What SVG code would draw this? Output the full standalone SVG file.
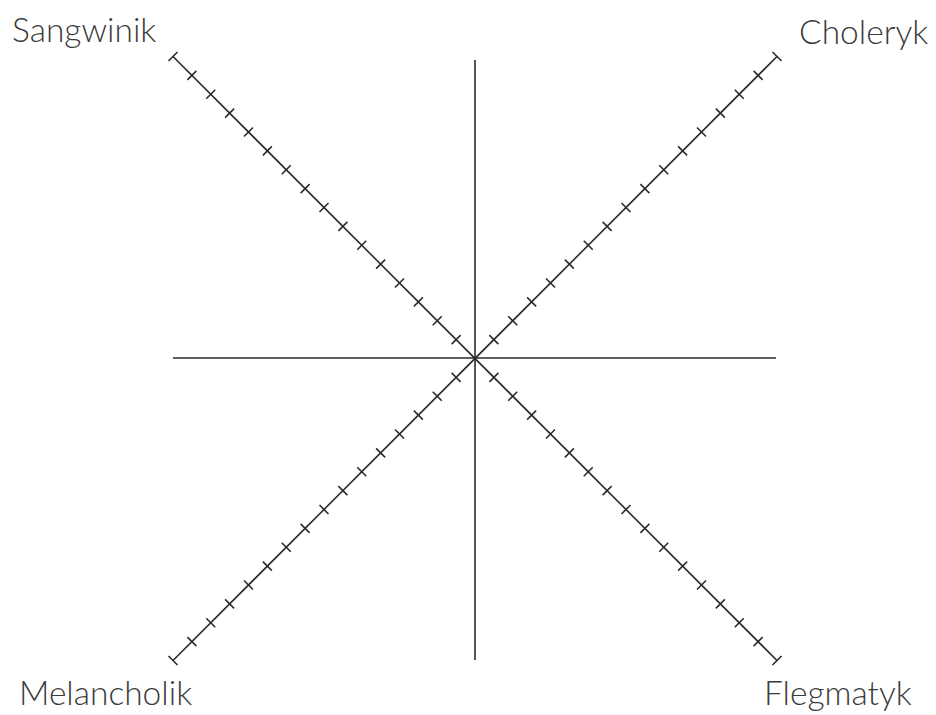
<svg xmlns="http://www.w3.org/2000/svg" width="936" height="715" viewBox="0 0 936 715">
<style>
.ax{stroke:#2b2b2b;stroke-width:1.6;fill:none}
.tk{stroke:#2b2b2b;stroke-width:1.6}
.lb{font-family:Lato,"Open Sans","Liberation Sans",sans-serif;font-weight:300;font-size:33.5px;fill:#3a3a3a}
</style>
<rect width="936" height="715" fill="#fff"/>
<defs>
<g id="tick"><line x1="-4.5" y1="4.5" x2="4.5" y2="-4.5" class="tk"/></g>
<g id="tick2"><line x1="-4.5" y1="-4.5" x2="4.5" y2="4.5" class="tk"/></g>
</defs>
<g id="connectors">
<line class="ax" x1="475" y1="60" x2="475" y2="660"/>
<line class="ax" x1="173" y1="358" x2="776" y2="358"/>
<line class="ax" x1="173" y1="56.5" x2="777" y2="660.5"/>
<line class="ax" x1="777" y1="56.5" x2="173" y2="660.5"/>
</g>
<g id="ticks-sangwinik">
<use href="#tick" x="173" y="56.5"/><use href="#tick" x="191.875" y="75.375"/><use href="#tick" x="210.75" y="94.25"/><use href="#tick" x="229.625" y="113.125"/><use href="#tick" x="248.5" y="132"/><use href="#tick" x="267.375" y="150.875"/><use href="#tick" x="286.25" y="169.75"/><use href="#tick" x="305.125" y="188.625"/><use href="#tick" x="324" y="207.5"/><use href="#tick" x="342.875" y="226.375"/><use href="#tick" x="361.75" y="245.25"/><use href="#tick" x="380.625" y="264.125"/><use href="#tick" x="399.5" y="283"/><use href="#tick" x="418.375" y="301.875"/><use href="#tick" x="437.25" y="320.75"/><use href="#tick" x="456.125" y="339.625"/>
</g>
<g id="ticks-flegmatyk">
<use href="#tick" x="493.875" y="377.375"/><use href="#tick" x="512.75" y="396.25"/><use href="#tick" x="531.625" y="415.125"/><use href="#tick" x="550.5" y="434"/><use href="#tick" x="569.375" y="452.875"/><use href="#tick" x="588.25" y="471.75"/><use href="#tick" x="607.125" y="490.625"/><use href="#tick" x="626" y="509.5"/><use href="#tick" x="644.875" y="528.375"/><use href="#tick" x="663.75" y="547.25"/><use href="#tick" x="682.625" y="566.125"/><use href="#tick" x="701.5" y="585"/><use href="#tick" x="720.375" y="603.875"/><use href="#tick" x="739.25" y="622.75"/><use href="#tick" x="758.125" y="641.625"/><use href="#tick" x="777" y="660.5"/>
</g>
<g id="ticks-choleryk">
<use href="#tick2" x="777" y="56.5"/><use href="#tick2" x="758.125" y="75.375"/><use href="#tick2" x="739.25" y="94.25"/><use href="#tick2" x="720.375" y="113.125"/><use href="#tick2" x="701.5" y="132"/><use href="#tick2" x="682.625" y="150.875"/><use href="#tick2" x="663.75" y="169.75"/><use href="#tick2" x="644.875" y="188.625"/><use href="#tick2" x="626" y="207.5"/><use href="#tick2" x="607.125" y="226.375"/><use href="#tick2" x="588.25" y="245.25"/><use href="#tick2" x="569.375" y="264.125"/><use href="#tick2" x="550.5" y="283"/><use href="#tick2" x="531.625" y="301.875"/><use href="#tick2" x="512.75" y="320.75"/><use href="#tick2" x="493.875" y="339.625"/>
</g>
<g id="ticks-melancholik">
<use href="#tick2" x="456.125" y="377.375"/><use href="#tick2" x="437.25" y="396.25"/><use href="#tick2" x="418.375" y="415.125"/><use href="#tick2" x="399.5" y="434"/><use href="#tick2" x="380.625" y="452.875"/><use href="#tick2" x="361.75" y="471.75"/><use href="#tick2" x="342.875" y="490.625"/><use href="#tick2" x="324" y="509.5"/><use href="#tick2" x="305.125" y="528.375"/><use href="#tick2" x="286.25" y="547.25"/><use href="#tick2" x="267.375" y="566.125"/><use href="#tick2" x="248.5" y="585"/><use href="#tick2" x="229.625" y="603.875"/><use href="#tick2" x="210.75" y="622.75"/><use href="#tick2" x="191.875" y="641.625"/><use href="#tick2" x="173" y="660.5"/>
</g>
<g id="sangwinik"><text class="lb" x="12" y="41.5">Sangwinik</text></g>
<g id="choleryk"><text class="lb" x="799" y="44">Choleryk</text></g>
<g id="melancholik"><text class="lb" x="19" y="705">Melancholik</text></g>
<g id="flegmatyk"><text class="lb" x="764" y="705">Flegmatyk</text></g>
</svg>
